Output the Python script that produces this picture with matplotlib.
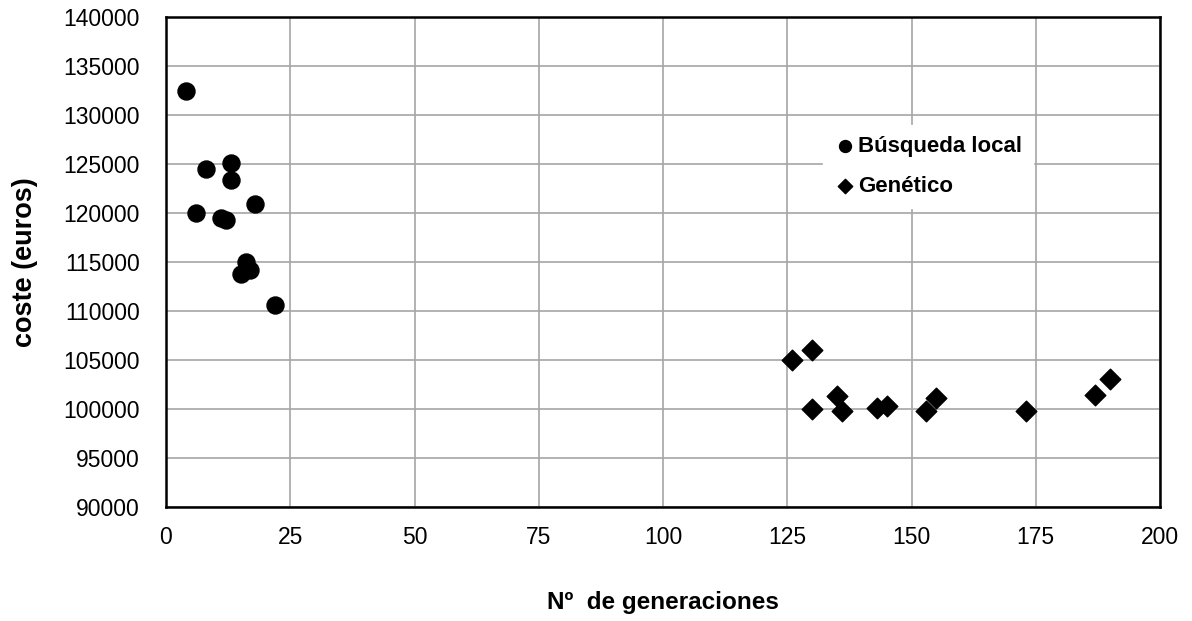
import matplotlib
matplotlib.use("Agg")
from matplotlib import pyplot as plt

plt.rcParams['font.family'] = ['Liberation Sans', 'DejaVu Sans']

# Búsqueda local
local_gen = [4, 8, 13, 13, 18, 6, 11, 12, 16, 17, 15, 22]
local_cost = [132400, 124450, 125150, 123400, 120950, 119950, 119450, 119250, 115000, 114150, 113750, 110600]

# Genético
gen_gen = [126, 130, 130, 135, 136, 143, 145, 153, 155, 173, 187, 190]
gen_cost = [105000, 106050, 100050, 101350, 99750, 100100, 100300, 99750, 101150, 99750, 101400, 103100]

x_ticks = [0, 25, 50, 75, 100, 125, 150, 175, 200]
y_ticks = list(range(90000, 140001, 5000))

fig = plt.figure(figsize=(11.92, 6.21), dpi=100)
ax = fig.add_axes([166 / 1192, 1 - 507 / 621, (1160 - 166) / 1192, (507 - 17) / 621])

ax.scatter(local_gen, local_cost, s=150, marker='o', color='black', zorder=3, label='Búsqueda local')
ax.scatter(gen_gen, gen_cost, s=110, marker='D', color='black', zorder=3, label='Genético')

ax.set_xlim(0, 200)
ax.set_ylim(90000, 140000)
ax.set_xticks(x_ticks)
ax.set_yticks(y_ticks)
ax.grid(True, color='#a6a6a6', linewidth=1.2, zorder=0)
ax.set_axisbelow(True)
for s in ax.spines.values():
    s.set_linewidth(1.8)
    s.set_color('black')
ax.tick_params(length=0, labelsize=16.5)
ax.tick_params(axis='y', pad=19)
ax.tick_params(axis='x', pad=14)

ax.set_xlabel('Nº  de generaciones', fontsize=17.5, fontweight='bold')
ax.set_ylabel('coste (euros)', fontsize=19.5, fontweight='bold')
ax.xaxis.set_label_coords(0.5, (507 - 603) / 490)
ax.xaxis.label.set_va('center')
ax.yaxis.set_label_coords((25 - 166) / 994, 0.5)
ax.yaxis.label.set_va('center')

leg = ax.legend(loc='upper left', bbox_to_anchor=(0.65, 0.802), frameon=True, fancybox=False,
                edgecolor='white', framealpha=1, prop={'size': 16, 'weight': 'bold'},
                markerscale=0.7, handletextpad=0.05, handlelength=1.0, borderpad=0.5,
                labelspacing=0.85)

fig.savefig('out.png', dpi=100)
